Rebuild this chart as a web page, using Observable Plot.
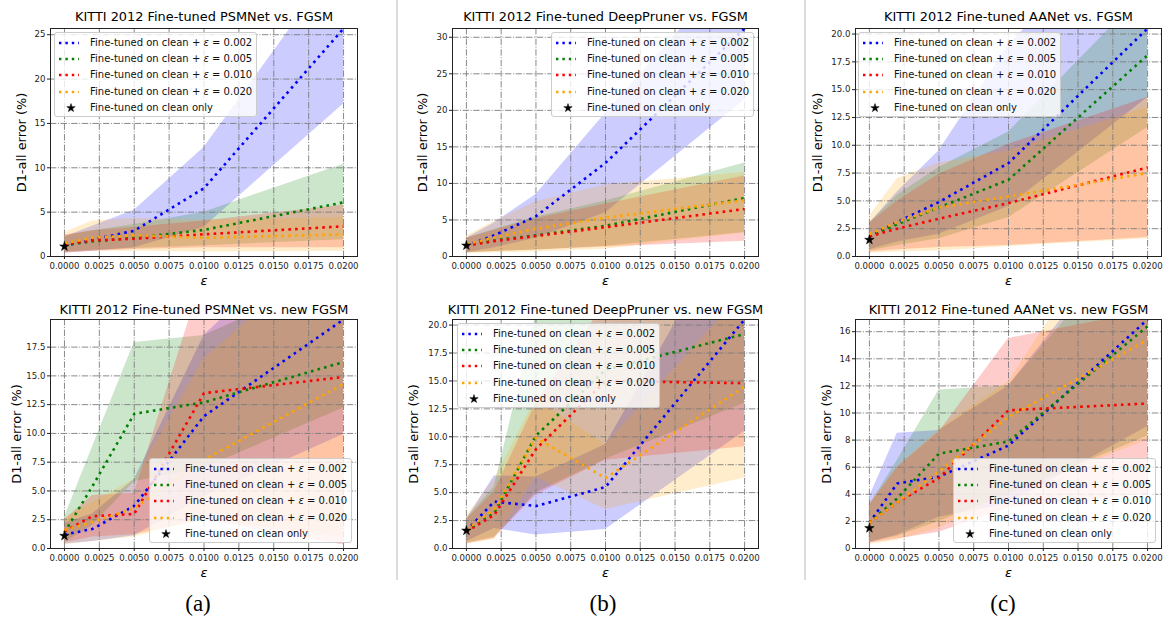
<!DOCTYPE html>
<html><head><meta charset="utf-8">
<script src="https://cdn.jsdelivr.net/npm/d3@7"></script>
<script src="https://cdn.jsdelivr.net/npm/@observablehq/plot@0.6"></script>
<style>
html,body{margin:0;padding:0;background:#fff;}
#page{position:relative;width:1169px;height:622px;overflow:hidden;font-family:"DejaVu Sans",sans-serif;background:#fff;}
.panel{position:absolute;}
.legend{position:absolute;box-sizing:border-box;border:1px solid #cccccc;border-radius:3px;background:rgba(255,255,255,0.8);}
.row{position:absolute;left:0;height:14px;width:100%;font-size:10px;white-space:nowrap;color:#111;}
.vline{position:absolute;top:0;width:2px;height:580px;background:#dcdcdc;}
.cap{position:absolute;font-family:"Liberation Serif",serif;font-size:23px;color:#000;transform:translate(-50%,-50%);}
</style></head>
<body><div id="page"></div>
<script>
// ---------- data ----------
const xEps = [0, 0.002, 0.005, 0.010, 0.020];
const xTicks = [0, 0.0025, 0.005, 0.0075, 0.01, 0.0125, 0.015, 0.0175, 0.02];
const seriesEps = ["0.002", "0.005", "0.010", "0.020"];
const colors = ["#0000ff", "#008000", "#ff0000", "#ffa500"];

// (a) top: PSMNet vs FGSM
const psmFgsmMean = [[1.2, 1.9, 2.9, 7.7, 25.7],[1.3, 1.7, 2.1, 3.0, 6.1],[1.4, 1.8, 2.0, 2.5, 3.4],[1.5, 2.1, 2.4, 2.1, 2.5]];
const psmFgsmLo = [[0.4, 0.6, 1.0, 3.3, 17.2],[0.5, 0.7, 0.9, 1.2, 1.9],[0.4, 0.6, 0.8, 1.0, 1.0],[0.4, 0.6, 0.6, 0.5, 0.6]];
const psmFgsmHi = [[2.2, 3.4, 5.2, 12.3, 34.0],[2.3, 2.9, 3.6, 5.0, 10.4],[2.4, 2.9, 3.3, 4.0, 5.8],[2.7, 4.0, 4.3, 4.1, 4.4]];
const psmFgsmClean = 1.13;
// (b) top: DeepPruner vs FGSM
const dpFgsmMean = [[1.5, 2.9, 5.5, 12.8, 31.2],[1.5, 2.2, 2.9, 4.2, 8.0],[1.5, 2.1, 2.8, 4.0, 6.5],[1.7, 2.6, 3.8, 5.3, 7.7]];
const dpFgsmLo = [[0.5, 1.2, 2.5, 6.0, 21.4],[0.5, 0.7, 0.9, 1.4, 3.3],[0.5, 0.7, 0.9, 1.3, 2.1],[0.4, 0.5, 0.6, 1.0, 3.2]];
const dpFgsmHi = [[2.5, 4.6, 8.5, 19.6, 41.0],[2.5, 3.7, 5.4, 7.6, 12.8],[2.5, 3.6, 5.2, 7.2, 11.0],[2.8, 4.8, 7.5, 9.8, 11.5]];
const dpFgsmClean = 1.5;
// (c) top: AANet vs FGSM
const aaFgsmMean = [[1.8, 3.1, 4.9, 8.4, 20.5],[1.8, 2.9, 4.4, 6.9, 18.1],[1.8, 2.5, 3.4, 4.8, 8.0],[2.0, 3.1, 4.4, 5.4, 7.5]];
const aaFgsmLo = [[0.6, 1.3, 2.0, 4.5, 14.3],[0.5, 1.0, 1.6, 3.5, 11.6],[0.4, 0.6, 0.8, 1.0, 1.7],[0.3, 0.4, 0.5, 0.9, 1.6]];
const aaFgsmHi = [[3.0, 5.8, 9.5, 19.0, 32.0],[3.0, 5.5, 8.0, 11.2, 24.0],[3.0, 5.0, 7.4, 10.1, 14.3],[3.6, 7.0, 8.4, 9.5, 13.4]];
const aaFgsmClean = 1.5;
// (a) bottom: PSMNet vs new FGSM
const psmNewMean = [[1.2, 1.7, 3.7, 11.5, 19.9],[1.4, 5.4, 11.7, 12.7, 16.2],[1.5, 2.8, 3.0, 13.5, 14.9],[1.6, 2.3, 3.5, 7.7, 14.3]];
const psmNewLo = [[0.4, 0.6, 1.1, 4.5, 9.9],[0.5, 2.0, 5.8, 7.0, 12.2],[0.5, 1.0, 1.2, 2.5, 0.3],[0.3, 0.6, 1.0, 2.5, 1.0]];
const psmNewHi = [[2.2, 3.0, 6.0, 18.5, 30.0],[2.7, 8.8, 17.9, 18.5, 24.0],[2.5, 4.6, 4.8, 24.0, 26.0],[2.6, 4.0, 6.0, 16.5, 27.0]];
const psmNewClean = 1.1;
// (b) bottom: DeepPruner vs new FGSM
const dpNewMean = [[1.6, 4.2, 3.8, 5.5, 20.5],[1.6, 3.2, 10.1, 16.0, 19.2],[1.5, 3.0, 8.9, 15.0, 14.8],[1.7, 3.5, 9.9, 6.3, 14.5]];
const dpNewLo = [[0.6, 1.8, 1.2, 1.7, 10.5],[0.5, 1.0, 5.0, 8.0, 13.0],[0.4, 0.9, 4.8, 7.9, 9.1],[0.4, 0.8, 6.4, 3.5, 6.3]];
const dpNewHi = [[2.6, 6.5, 6.4, 9.3, 31.0],[2.7, 5.5, 21.0, 25.0, 26.0],[2.6, 5.1, 13.0, 22.0, 21.0],[2.9, 6.2, 13.4, 9.3, 23.0]];
const dpNewClean = 1.6;
// (c) bottom: AANet vs new FGSM
const aaNewMean = [[1.9, 4.8, 5.3, 7.6, 16.9],[1.9, 3.7, 7.0, 7.9, 16.4],[1.9, 3.4, 5.2, 10.2, 10.7],[1.9, 3.4, 5.7, 9.7, 15.4]];
const aaNewLo = [[0.4, 1.0, 2.3, 3.3, 9.0],[0.5, 0.9, 2.0, 4.0, 8.3],[0.4, 0.7, 1.2, 3.0, 4.0],[0.3, 0.6, 1.5, 4.0, 8.0]];
const aaNewHi = [[3.8, 8.5, 8.7, 12.0, 25.0],[3.2, 6.5, 11.7, 12.0, 24.0],[3.2, 6.0, 8.6, 15.5, 17.5],[3.3, 6.0, 8.8, 12.3, 28.0]];
const aaNewClean = 1.5;

const titles = [
  "KITTI 2012 Fine-tuned PSMNet vs. FGSM",
  "KITTI 2012 Fine-tuned DeepPruner vs. FGSM",
  "KITTI 2012 Fine-tuned AANet vs. FGSM",
  "KITTI 2012 Fine-tuned PSMNet vs. new FGSM",
  "KITTI 2012 Fine-tuned DeepPruner vs. new FGSM",
  "KITTI 2012 Fine-tuned AANet vs. new FGSM"
];
const yTicksList = [
  [0, 5, 10, 15, 20, 25],
  [0, 5, 10, 15, 20, 25, 30],
  [0, 2.5, 5, 7.5, 10, 12.5, 15, 17.5, 20],
  [0, 2.5, 5, 7.5, 10, 12.5, 15, 17.5],
  [0, 2.5, 5, 7.5, 10, 12.5, 15, 17.5, 20],
  [0, 2, 4, 6, 8, 10, 12, 14, 16]
];
const yFormats = ["d", "d", ".1f", ".1f", ".1f", "d"];
const yLabel = "D1-all error (%)";
const xLabel = "ε";
const captions = ["(a)", "(b)", "(c)"];

// ---------- layout ----------
const cols = [
  {bx: 0, bw: 395, fl: 50, fr: 357},
  {bx: 399, bw: 404, fl: 452, fr: 758},
  {bx: 807, bw: 362, fl: 855, fr: 1161}
];
const rowsL = [
  {by: 0, bh: 290, ft: 28, fb: 256, titleDy: -12, xlabDy: 24},
  {by: 290, bh: 290, ft: 319, fb: 548, titleDy: -10, xlabDy: 24}
];
const panels = [
  {mean: psmFgsmMean, lo: psmFgsmLo, hi: psmFgsmHi, clean: psmFgsmClean, c: 0, r: 0, ylab: 29, leg: [54, 32]},
  {mean: dpFgsmMean, lo: dpFgsmLo, hi: dpFgsmHi, clean: dpFgsmClean, c: 1, r: 0, ylab: 30, leg: [551, 32]},
  {mean: aaFgsmMean, lo: aaFgsmLo, hi: aaFgsmHi, clean: aaFgsmClean, c: 2, r: 0, ylab: 38, leg: [858, 32]},
  {mean: psmNewMean, lo: psmNewLo, hi: psmNewHi, clean: psmNewClean, c: 0, r: 1, ylab: 34, leg: [149, 458]},
  {mean: dpNewMean, lo: dpNewLo, hi: dpNewHi, clean: dpNewClean, c: 1, r: 1, ylab: 39, leg: [457, 323]},
  {mean: aaNewMean, lo: aaNewLo, hi: aaNewHi, clean: aaNewClean, c: 2, r: 1, ylab: 29, leg: [953, 458]}
];

const page = document.getElementById("page");
const gridStyle = {stroke: "#7c7c7c", strokeOpacity: 1, strokeWidth: 0.9, strokeDasharray: "6.4,1.6,1,1.6"};

panels.forEach((p, k) => {
  const col = cols[p.c], row = rowsL[p.r];
  const table = [];
  p.mean.forEach((m, s) => xEps.forEach((x, i) => table.push({x, s, mean: m[i], lo: p.lo[s][i], hi: p.hi[s][i]})));
  const ymax = d3.max(p.mean.flat());
  const yt = yTicksList[k];
  const marks = [];
  for (let s = 0; s < 4; s++) {
    marks.push(Plot.areaY(table.filter(d => d.s === s), {x: "x", y1: "lo", y2: "hi", fill: colors[s], fillOpacity: 0.2, clip: true}));
  }
  marks.push(Plot.gridX(xTicks, gridStyle));
  marks.push(Plot.gridY(yt, gridStyle));
  for (let s = 0; s < 4; s++) {
    marks.push(Plot.line(table.filter(d => d.s === s), {x: "x", y: "mean", stroke: colors[s], strokeWidth: 2.6, strokeDasharray: "2.6,4.2", strokeLinecap: "butt", strokeLinejoin: "miter", clip: true}));
  }
  marks.push(Plot.dot([{x: 0, y: p.clean}], {x: "x", y: "y", symbol: "star", fill: "black", stroke: "black", strokeWidth: 0.5, r: 3}));
  marks.push(Plot.frame({stroke: "#222", strokeWidth: 1}));
  marks.push(Plot.axisX(xTicks, {tickFormat: d3.format(".4f"), tickSize: 3, tickPadding: 3.5, label: null}));
  marks.push(Plot.axisY(yt, {tickFormat: d3.format(yFormats[k]), tickSize: 3, tickPadding: 2, label: null}));
  marks.push(Plot.text([titles[k]], {text: d => d, frameAnchor: "top", lineAnchor: "middle", textAnchor: "middle", dy: row.titleDy, fontSize: 12.9, fill: "#000"}));
  marks.push(Plot.text([yLabel], {text: d => d, frameAnchor: "left", lineAnchor: "middle", textAnchor: "middle", rotate: -90, dx: -p.ylab, fontSize: 12.9, fill: "#000"}));
  marks.push(Plot.text([xLabel], {text: d => d, frameAnchor: "bottom", lineAnchor: "middle", textAnchor: "middle", dy: row.xlabDy, fontSize: 13, fontStyle: "italic", fill: "#000"}));

  const svg = Plot.plot({
    width: col.bw, height: row.bh,
    marginLeft: col.fl - col.bx, marginRight: col.bx + col.bw - col.fr,
    marginTop: row.ft - row.by, marginBottom: row.by + row.bh - row.fb,
    style: {fontFamily: "DejaVu Sans", fontSize: "8.6px", color: "#222", background: "none", overflow: "visible"},
    x: {domain: [-0.001, 0.021], label: null},
    y: {domain: [0, ymax], label: null},
    marks
  });
  const div = document.createElement("div");
  div.className = "panel";
  div.style.left = col.bx + "px"; div.style.top = row.by + "px";
  div.appendChild(svg);
  page.appendChild(div);

  // legend
  const lg = document.createElement("div");
  lg.className = "legend";
  lg.style.left = p.leg[0] + "px"; lg.style.top = p.leg[1] + "px";
  lg.style.width = "203px"; lg.style.height = "85px";
  seriesEps.forEach((e, i) => {
    const r = document.createElement("div");
    r.className = "row";
    r.style.top = (10 + i * 16.2 - 7) + "px";
    r.innerHTML = `<svg width="22" height="14" style="position:absolute;left:4px;top:0"><line x1="0" x2="20" y1="7" y2="7" stroke="${colors[i]}" stroke-width="2.4" stroke-dasharray="2.4,4"/></svg>` +
      `<span style="position:absolute;left:35px;top:0;line-height:14px">Fine-tuned on clean + <i>ε</i> = ${e}</span>`;
    lg.appendChild(r);
  });
  const r5 = document.createElement("div");
  r5.className = "row";
  r5.style.top = (10 + 4 * 16.2 - 7) + "px";
  const starPath = d3.symbol(d3.symbolStar, Math.PI * 7)();
  r5.innerHTML = `<svg width="22" height="14" style="position:absolute;left:4px;top:0"><path d="${starPath}" transform="translate(12,7)" fill="black" stroke="black" stroke-width="0.5"/></svg>` +
    `<span style="position:absolute;left:35px;top:0;line-height:14px">Fine-tuned on clean only</span>`;
  lg.appendChild(r5);
  page.appendChild(lg);
});

// dividers and captions
[396, 804].forEach(x => {
  const v = document.createElement("div");
  v.className = "vline"; v.style.left = x + "px";
  page.appendChild(v);
});
[[198, 604], [603, 604], [1003, 604]].forEach((pos, i) => {
  const c = document.createElement("div");
  c.className = "cap";
  c.style.left = pos[0] + "px"; c.style.top = pos[1] + "px";
  c.textContent = captions[i];
  page.appendChild(c);
});
</script></body></html>
